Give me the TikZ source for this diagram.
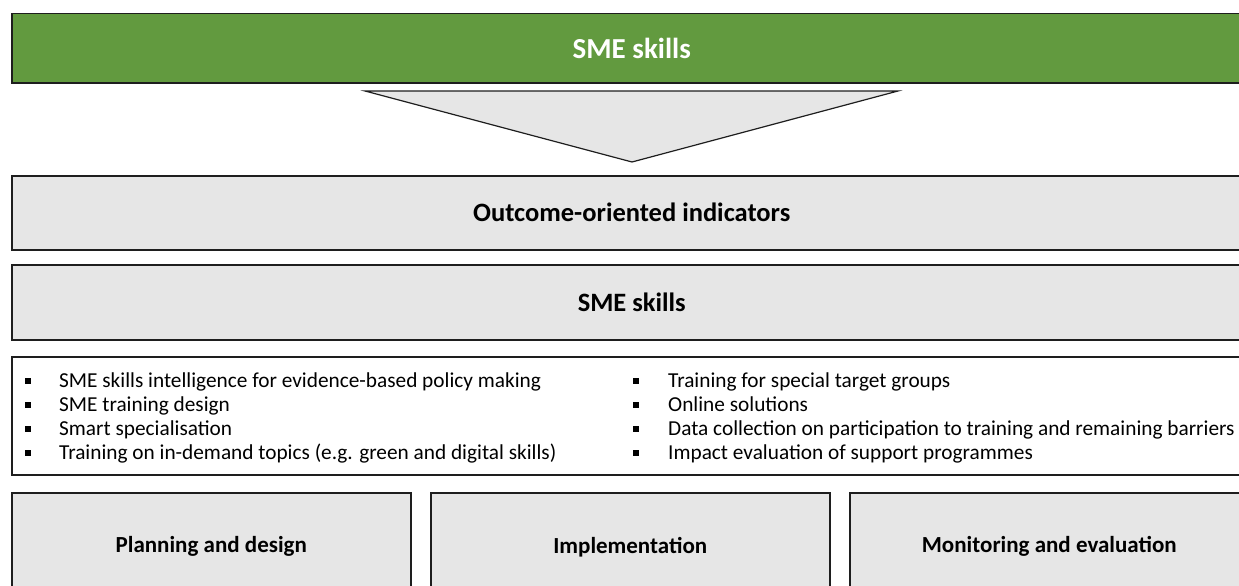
\documentclass[tikz,border=0pt]{standalone}
\usepackage{fontspec}
\setmainfont{Carlito}
\usetikzlibrary{positioning, calc}
\definecolor{headgreen}{HTML}{629A3F}
\definecolor{panelgray}{HTML}{E6E6E6}
\definecolor{edgecol}{HTML}{1E1E1E}
\newcommand{\sqbul}[1]{\makebox[#1][l]{\rule[3.5pt]{6pt}{6pt}}}
\begin{document}
\begin{tikzpicture}[
        x=1pt, y=-1pt,
        %% Grid: pixel coordinates of the 1239x586 frame, y downwards.
        panel/.style={rectangle, draw=edgecol, line width=1.5pt, fill=panelgray, anchor=north west, inner sep=0pt, align=center, font=\fontsize{26.5}{30}\selectfont\bfseries},
        headbox/.style={panel, fill=headgreen, text=white, font=\fontsize{29}{33}\selectfont\bfseries},
        listbox/.style={panel, fill=white},
        stagebox/.style={panel, minimum width=399, minimum height=108, font=\fontsize{23}{27}\selectfont\bfseries},
        listtext/.style={anchor=north west, align=left, inner sep=0pt, font=\fontsize{21.3}{24}\selectfont},
        funnel/.style={draw=edgecol, line width=1.2pt, fill=panelgray}
    ]
    \useasboundingbox (0,0) rectangle (1239,586);
    \clip (0,0) rectangle (1239,586);

    %% --- Header (row y=13) ---
    \node[headbox, minimum width=1240, minimum height=69] (head) at (11,13) {SME skills};

    %% --- Funnel below the header ---
    \coordinate (fl) at (365,91);
    \coordinate (fr) at (898,91);
    \coordinate (ftip) at (632,162);
    \draw[funnel] (fl) -- (fr) -- (ftip) -- cycle;

    %% --- Indicator rows ---
    \node[panel, minimum width=1240, minimum height=74] (outcome) at (11,175) {Outcome-oriented indicators};
    \node[panel, minimum width=1240, minimum height=75] (skills)  at (11,264) {SME skills};

    %% --- Bullet list box ---
    \node[listbox, minimum width=1240, minimum height=118] (list) at (11,356) {};
    \node[listtext] (colA) at (25,372.5) {%
        \sqbul{34pt}SME skills intelligence for evidence-based policy making\\
        \sqbul{34pt}SME training design\\
        \sqbul{34pt}Smart specialisation\\
        \sqbul{34pt}Training on in-demand topics (e.g. green and digital skills)};
    \node[listtext] (colB) at (633,372.5) {%
        \sqbul{35pt}Training for special target groups\\
        \sqbul{35pt}Online solutions\\
        \sqbul{35pt}Data collection on participation to training and remaining barriers\\
        \sqbul{35pt}Impact evaluation of support programmes};

    %% --- Stage boxes (row y=492) ---
    \node[stagebox] (plan)    at (11,492)  {Planning and design};
    \node[stagebox] (impl)    at (430,492) {Implementation};
    \node[stagebox] (monitor) at (849,492) {Monitoring and evaluation};
\end{tikzpicture}
\end{document}
